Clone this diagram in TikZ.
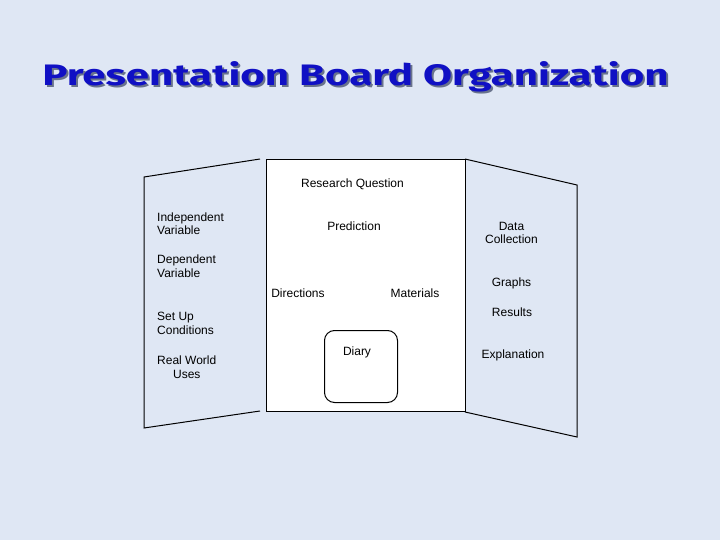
\documentclass[tikz,border=0pt]{standalone}
\usepackage{fontspec}
\setmainfont{Liberation Sans}
\newfontfamily\titlefont{Fira Sans}
\definecolor{bgblue}{RGB}{223,231,244}
\definecolor{titleblue}{RGB}{16,16,196}
\definecolor{shadowgray}{RGB}{105,115,140}
\begin{document}
\begin{tikzpicture}[x=1pt,y=-1pt,
  lbl/.style={inner sep=0pt,font=\fontsize{12}{13.5}\selectfont},
  lleft/.style={lbl,anchor=west,align=left},
  lcenter/.style={lbl,align=center},
  edge/.style={draw=black,line width=1pt},
  titletext/.style={inner sep=0pt,anchor=base}]
\useasboundingbox (0,0) rectangle (720,540);
\fill[bgblue] (0,0) rectangle (720,540);
% title
\node[titletext,text=shadowgray] (titleshadow) at (357.5,88) {\resizebox{626pt}{24pt}{\titlefont\bfseries Presentation Board Organization}};
\node[titletext,text=titleblue] (title) at (355.5,86) {\resizebox{626pt}{24pt}{\titlefont\bfseries Presentation Board Organization}};
% panels
\coordinate (ltop) at (260,159);
\coordinate (lbot) at (260,411);
\coordinate (rtop) at (465,159);
\coordinate (rbot) at (465,412);
\draw[edge] (ltop) -- (144,177) -- (144,428) -- (lbot);
\draw[edge] (rtop) -- (577,185) -- (577,437) -- (rbot);
\node[edge,fill=white,minimum width=199pt,minimum height=252pt,inner sep=0pt,anchor=north west] (center) at (266,159) {};
\node[edge,rounded corners=10pt,minimum width=73pt,minimum height=72pt,inner sep=0pt,anchor=north west] (diary) at (324,330) {};
% labels
\node[lcenter] (rq) at (352.5,184) {Research Question};
\node[lcenter] (pred) at (354,226) {Prediction};
\node[lcenter] (dir) at (298,293) {Directions};
\node[lcenter] (mat) at (415,293) {Materials};
\node[lcenter] (diarytxt) at (357,352) {Diary};
\node[lleft] (iv) at (157,223.5) {Independent\\Variable};
\node[lleft] (dv) at (157,266) {Dependent\\Variable};
\node[lleft] (su) at (157,323.5) {Set Up\\Conditions};
\node[lcenter,anchor=west] (rw) at (157,367) {Real World\\Uses};
\node[lcenter] (dc) at (511.5,233) {Data\\Collection};
\node[lcenter] (gr) at (511.5,283.5) {Graphs};
\node[lcenter] (res) at (512,312.5) {Results};
\node[lcenter] (exp) at (513,355.5) {Explanation};
\end{tikzpicture}
\end{document}
